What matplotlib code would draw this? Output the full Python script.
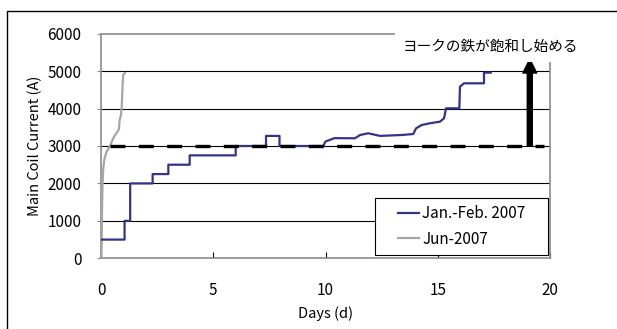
import matplotlib
matplotlib.use("Agg")
import matplotlib.pyplot as plt
from matplotlib.patches import Rectangle

plt.rcParams['font.family'] = ['Noto Sans CJK JP', 'DejaVu Sans']

# Jan.-Feb. 2007 run (days, amps)
jan_days = [0.05, 1.05, 1.05, 1.3, 1.3, 2.3, 2.3, 3.0, 3.0, 3.95, 3.95, 6.0, 6.0,
            7.35, 7.35, 7.95, 7.95, 9.9, 10.0, 10.4, 11.31, 11.54, 11.9, 12.43,
            13.39, 13.91, 14.03, 14.28, 14.65, 15.1, 15.28, 15.37, 15.96, 15.99,
            16.17, 17.06, 17.06, 17.36]
jan_amps = [500, 500, 1000, 1000, 2000, 2000, 2250, 2250, 2500, 2500, 2750, 2750, 3000,
            3000, 3270, 3270, 3000, 3000, 3120, 3210, 3206, 3294, 3340, 3270,
            3294, 3320, 3470, 3560, 3607, 3650, 3740, 4007, 4007, 4585,
            4675, 4675, 4960, 4960]

# Jun-2007 run
jun_days = [0.02, 0.03, 0.05, 0.07, 0.1, 0.15, 0.25, 0.4, 0.47, 0.58, 0.7, 0.8,
            0.83, 0.88, 0.92, 0.96, 0.99, 1.07]
jun_amps = [0, 500, 1500, 2000, 2400, 2650, 2850, 3000, 3100, 3250, 3350, 3450,
            3700, 3800, 4000, 4600, 4900, 4950]

# saturation level and arrow
sat_days = [0.4, 19.75]
sat_amps = [3000, 3000]
arrow_day = 19.1
arrow_from, arrow_to = 3000, 5320
note = "ヨークの鉄が飽和し始める"

fig = plt.figure(figsize=(6.17, 3.29), dpi=100)
fig.patches.append(Rectangle((7 / 617, -0.1), 1.2, 1 - 11 / 329 + 0.1,
                             transform=fig.transFigure, fill=False,
                             edgecolor='black', linewidth=1.0))
ax = fig.add_axes([101 / 617, 1 - 258.3 / 329, 449 / 617, 224.6 / 329])

ax.set_xlim(0, 20)
ax.set_ylim(0, 6000)
ax.set_xticks([0, 5, 10, 15, 20])
ax.set_yticks(range(0, 7000, 1000))
for y in range(1000, 6000, 1000):
    ax.axhline(y, color='black', linewidth=0.8, zorder=1)

ax.plot(jun_days, jun_amps, color='#a6a6a6', linewidth=1.6, label='Jun-2007', zorder=3)
ax.plot(jan_days, jan_amps, color='#333388', linewidth=1.6, label='Jan.-Feb. 2007', zorder=4)
ax.plot(sat_days, sat_amps, color='black', linewidth=2.4,
        linestyle=(0, (4.5, 4.0)), zorder=5)
ax.annotate('', xy=(arrow_day, arrow_to), xytext=(arrow_day, arrow_from),
            arrowprops=dict(arrowstyle='simple,head_length=0.5,head_width=0.5,tail_width=0.18',
                            mutation_scale=20, color='black', shrinkA=0, shrinkB=0),
            zorder=6)
ax.text(17.35, 5650, note, fontsize=10.5, ha='center', va='center', zorder=10,
        clip_on=False, bbox=dict(boxstyle='square,pad=0.55', fc='white', ec='none'))

for s in ax.spines.values():
    s.set_color('#8c8c8c')
    s.set_linewidth(1.2)
ax.tick_params(axis='x', direction='in', length=4, color='black', pad=17, labelsize=11)
ax.tick_params(axis='y', direction='out', length=3, color='#8c8c8c', pad=11, labelsize=11)
ax.set_xlabel('Days (d)', fontsize=10.5, labelpad=5)
ax.set_ylabel('Main Coil Current (A)', fontsize=10.5, labelpad=4)

# legend: own frame box, entries centred inside it
ax.add_patch(Rectangle((0.610, 0.0147), 0.3855, 0.2538, transform=ax.transAxes,
                       facecolor='white', edgecolor='black', linewidth=0.8, zorder=7))
h, l = ax.get_legend_handles_labels()
leg = ax.legend(h[::-1], l[::-1], loc='center', bbox_to_anchor=(0.803, 0.1416),
                fontsize=11, frameon=False, handlelength=1.4, borderpad=0,
                labelspacing=0.55, handletextpad=0.2)
leg.set_zorder(8)

fig.savefig('out.png', dpi=100)
